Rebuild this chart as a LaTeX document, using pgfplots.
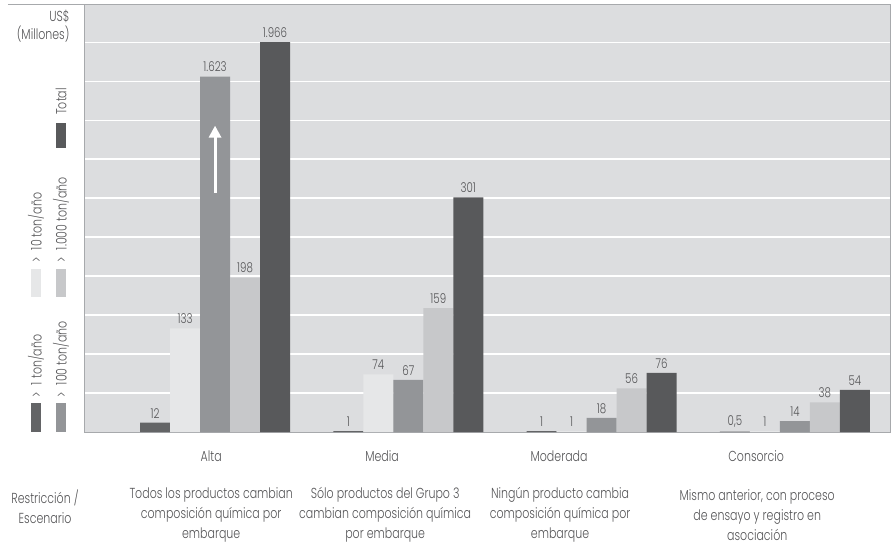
\documentclass[border=0pt]{standalone}
\usepackage{pgfplots}
\pgfplotsset{compat=1.18}
\usepackage{pgfplotstable}
\usepackage{fontspec}
\setmainfont{Poppins}[UprightFont=* Light, FakeStretch=0.76]
\usetikzlibrary{arrows.meta}
\definecolor{cA}{HTML}{636466}
\definecolor{cB}{HTML}{E6E7E8}
\definecolor{cC}{HTML}{939598}
\definecolor{cD}{HTML}{C7C8CA}
\definecolor{cE}{HTML}{58595B}
\definecolor{bgc}{HTML}{DCDDDF}
\definecolor{txt}{HTML}{555557}
\definecolor{frm}{HTML}{A7A9AC}
% x = scenario, h = drawn height (US$ millones, truncated for the two largest), lab = value
\pgfplotstableread{
x h lab
0 12 12
1 1 1
2 1 1
3 0.5 0,5
}\tA
\pgfplotstableread{
x h lab
0 133 133
1 74 74
2 1 1
3 1 1
}\tB
\pgfplotstableread{
x h lab
0 456 1.623
1 67 67
2 18 18
3 14 14
}\tC
\pgfplotstableread{
x h lab
0 198 198
1 159 159
2 56 56
3 38 38
}\tD
\pgfplotstableread{
x h lab
0 500 1.966
1 301 301
2 76 76
3 54 54
}\tE
\begin{document}
\begin{tikzpicture}[font=\fontsize{14.5bp}{20bp}\selectfont, text=txt]
\useasboundingbox (-84bp,-117bp) rectangle (808bp,432bp);
\begin{axis}[
  at={(0,0)}, anchor=south west,
  scale only axis, width=806bp, height=428bp,
  xmin=-0.678, xmax=3.492, ymin=0, ymax=549,
  ybar=0pt, bar width=30bp,
  axis background/.style={fill=bgc},
  axis line style={draw=frm, line width=0.9bp},
  xtick=\empty, ytick={50,100,...,500}, yticklabels={},
  major tick length=0pt,
  ymajorgrids, grid style={white, line width=1.3bp},
  clip=false,
  point meta=explicit symbolic,
  nodes near coords,
  every node near coord/.append style={font=\fontsize{13.5bp}{15bp}\selectfont, text=txt, yshift=1bp},
]
\addplot[fill=cA, draw=none] table[x=x, y=h, meta=lab]{\tA};
\addplot[fill=cB, draw=none] table[x=x, y=h, meta=lab]{\tB};
\addplot[fill=cC, draw=none] table[x=x, y=h, meta=lab]{\tC};
\addplot[fill=cD, draw=none] table[x=x, y=h, meta=lab]{\tD};
\addplot[fill=cE, draw=none] table[x=x, y=h, meta=lab]{\tE};
\draw[white, line width=3bp, -{Triangle[width=12bp,length=12bp]}] (axis cs:0,307) -- (axis cs:0,393);
\node at (axis cs:-0.02,0) [yshift=-24bp] {Alta};
\node at (axis cs:0.864,0) [yshift=-24bp] {Media};
\node at (axis cs:1.78,0) [yshift=-24bp] {Moderada};
\node at (axis cs:2.80,0) [yshift=-24bp] {Consorcio};
\node[align=center] at (axis cs:-0.02,0) [yshift=-83bp] {Todos los productos cambian\\composición química por\\embarque};
\node[align=center] at (axis cs:0.88,0) [yshift=-83bp] {Sólo productos del Grupo 3\\cambian composición química\\por embarque};
\node[align=center] at (axis cs:1.785,0) [yshift=-83bp] {Ningún producto cambia\\composición química por\\embarque};
\node[align=center] at (axis cs:2.805,0) [yshift=-83bp] {Mismo anterior, con proceso\\de ensayo y registro en\\asociación};
\end{axis}
\draw[frm, line width=0.9bp] (-76bp,428bp) -- (0,428bp);
\node[anchor=east, align=right, font=\fontsize{14.5bp}{18bp}\selectfont] at (-11bp,406bp) {US\$\\(Millones)};
\node[align=center] at (-39bp,-75bp) {Restricción /\\Escenario};
% legend
\fill[cA] (-53bp,0) rectangle (-43bp,29bp);
\node[rotate=90, anchor=west, inner sep=0pt] at (-48bp,34bp) {>\enspace1 ton/año};
\fill[cB] (-53bp,135bp) rectangle (-43bp,163bp);
\node[rotate=90, anchor=west, inner sep=0pt] at (-48bp,169bp) {>\enspace10 ton/año};
\fill[cC] (-28bp,0) rectangle (-18bp,29bp);
\node[rotate=90, anchor=west, inner sep=0pt] at (-23bp,34bp) {>\enspace100 ton/año};
\fill[cD] (-28bp,135bp) rectangle (-18bp,163bp);
\node[rotate=90, anchor=west, inner sep=0pt] at (-23bp,169bp) {>\enspace1.000 ton/año};
\fill[cE] (-28bp,284bp) rectangle (-18bp,309bp);
\node[rotate=90, anchor=west, inner sep=0pt] at (-23bp,317bp) {Total};
\end{tikzpicture}
\end{document}
